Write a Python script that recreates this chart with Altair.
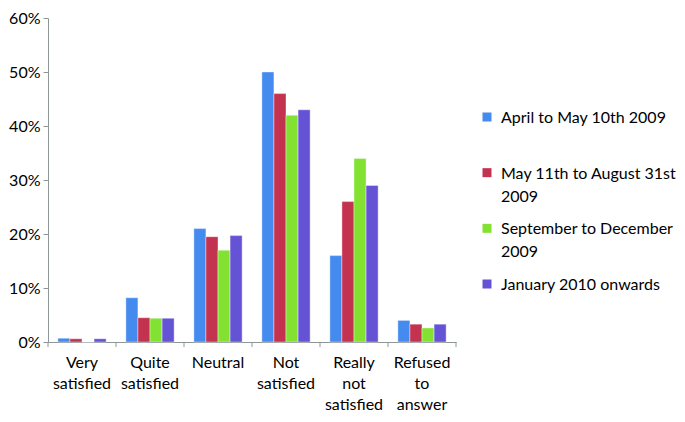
import altair as alt
import pandas as pd

categories = ["Very|satisfied", "Quite|satisfied", "Neutral", "Not|satisfied",
              "Really|not|satisfied", "Refused|to|answer"]
series = ["April to May 10th 2009", "May 11th to August 31st|2009",
          "September to December|2009", "January 2010 onwards"]
colors = ["#458BEF", "#C3324F", "#83E132", "#6553D5"]

v_april = [0.7, 8.2, 21.0, 50.0, 16.0, 4.0]
v_may = [0.6, 4.5, 19.5, 46.0, 26.0, 3.3]
v_sept = [0.0, 4.4, 17.0, 42.0, 34.0, 2.6]
v_jan = [0.6, 4.4, 19.7, 43.0, 29.0, 3.3]
y_ticks = [0, 10, 20, 30, 40, 50, 60]

rows = []
for s, vals in zip(series, [v_april, v_may, v_sept, v_jan]):
    for c, v in zip(categories, vals):
        rows.append({"cat": c, "series": s, "value": v})
df = pd.DataFrame(rows)

W, H = 408, 324
PI, PO = 0.29, 0.145
step = W / (len(categories) - PI + 2 * PO)
half_gap = PI * step / 2
FONT = "Lato"
FS = 16
AX = "#8E9698"

xscale = alt.Scale(domain=categories, paddingInner=PI, paddingOuter=PO)
cscale = alt.Scale(domain=series, range=colors)

bars = alt.Chart(df).mark_bar(stroke="white", strokeWidth=0.4).encode(
    x=alt.X("cat:N", scale=xscale, title=None,
            axis=alt.Axis(labelExpr="split(datum.label, '|')", labelAngle=0,
                          ticks=False, domainColor=AX, labelFont=FONT,
                          labelFontSize=FS, labelColor="#000000",
                          labelPadding=12, labelLineHeight=21,
                          labelBaseline="top")),
    xOffset=alt.XOffset("series:N", sort=series,
                        scale=alt.Scale(paddingInner=0, paddingOuter=0)),
    y=alt.Y("value:Q", scale=alt.Scale(domain=[0, 60]), title=None,
            axis=alt.Axis(values=y_ticks, labelExpr="datum.value + '%'",
                          grid=False, domainColor=AX, tickColor=AX,
                          tickSize=5, labelFont=FONT, labelFontSize=FS,
                          labelColor="#000000", labelPadding=3)),
    color=alt.Color("series:N", sort=series, scale=cscale, legend=None),
)

tick_df = pd.DataFrame({"cat": categories})
ticks = alt.Chart(tick_df).mark_rule(color=AX, xOffset=-half_gap).encode(
    x=alt.X("cat:N", scale=xscale, bandPosition=0),
    y=alt.value(H), y2=alt.value(H + 5),
)
last_tick = alt.Chart(pd.DataFrame({"cat": categories[-1:]})).mark_rule(
    color=AX, xOffset=half_gap).encode(
    x=alt.X("cat:N", scale=xscale, bandPosition=1),
    y=alt.value(H), y2=alt.value(H + 5),
)

main = alt.layer(bars, ticks, last_tick).properties(width=W, height=H)

# legend drawn as its own small panel
leg_df = pd.DataFrame({"series": series})
leg_y = alt.Y("series:N", sort=series, axis=None, title=None,
              scale=alt.Scale(type="point", domain=series, range=[99, 266],
                              padding=0))
leg_sym = alt.Chart(leg_df).mark_square(size=81, opacity=1).encode(
    x=alt.value(6), y=leg_y,
    color=alt.Color("series:N", sort=series, scale=cscale, legend=None),
)
leg_txt = alt.Chart(leg_df).transform_calculate(
    lab="split(datum.series, '|')"
).mark_text(align="left", baseline="top", dy=-7, lineHeight=23,
            font=FONT, fontSize=FS, color="#000000").encode(
    x=alt.value(20), y=leg_y, text="lab:N",
)
legend = alt.layer(leg_sym, leg_txt).properties(width=188, height=H)

chart = alt.hconcat(main, legend, spacing=24).properties(
    padding={"top": 2, "left": 0, "right": 0, "bottom": 0},
).configure(
    background="white",
    view=alt.ViewConfig(stroke=None),
)

chart.save("out.html", embed_options={"renderer": "svg", "actions": False})
